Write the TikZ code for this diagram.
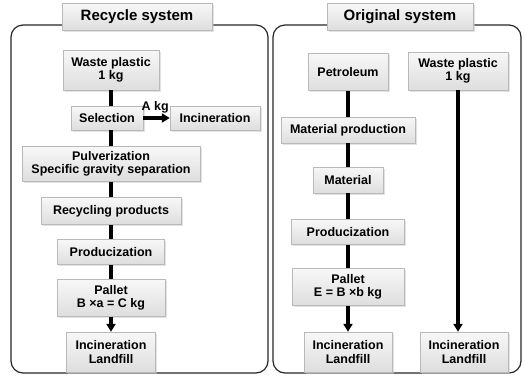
\documentclass[tikz,border=0pt]{standalone}
\usepackage{fontspec}
\setmainfont{Liberation Sans}
\usepackage{xcolor}
\usepackage{tikz}
\usetikzlibrary{arrows.meta,shadows}

\begin{document}
\begin{tikzpicture}[
  x=1pt, y=-1pt,
  font=\fontsize{12.5}{13.5}\selectfont\bfseries,
  >={Triangle[length=8pt, width=9pt]},
  box/.style={draw=gray!55, top color=gray!6, bottom color=gray!26,
              align=center, inner sep=0pt, minimum height=25pt,
              drop shadow={shadow xshift=1.5pt, shadow yshift=-1.5pt, fill=gray!45}},
  ttl/.style={box, font=\fontsize{15}{16}\selectfont\bfseries,
              minimum height=27pt},
  frame/.style={draw=black!85, line width=1.2pt, rounded corners=12pt},
  link/.style={line width=3.4pt, draw=black},
  flow/.style={link, ->},
  lbl/.style={inner sep=1pt}
]
\useasboundingbox (0,0) rectangle (525,376);

% frames
\draw[frame] (11,25) rectangle (268,373);
\draw[frame] (273,25) rectangle (521,373);
\node[ttl, minimum width=150pt] (t1) at (137,17) {Recycle system};
\node[ttl, minimum width=146pt] (t2) at (400,17) {Original system};

% recycle system
\node[box, minimum width=96pt, minimum height=40pt] (w1) at (111,70) {Waste plastic\\1 kg};
\node[box, minimum width=72pt, minimum height=24pt] (sel) at (107,118) {Selection};
\node[box, minimum width=90pt, minimum height=24pt] (inc0) at (215,118) {Incineration};
\node[box, minimum width=178pt, minimum height=35pt] (pul) at (111,164) {Pulverization\\Specific gravity separation};
\node[box, minimum width=140pt, minimum height=27pt] (rec) at (111,211) {Recycling products};
\node[box, minimum width=107pt] (prd1) at (111,252) {Producization};
\node[box, minimum width=108pt, minimum height=37pt] (pal1) at (111,298) {Pallet\\B ×a = C kg};
\node[box, minimum width=89pt, minimum height=40pt] (inc1) at (111,352) {Incineration\\Landfill};

\draw[link] (w1.south) -- (w1.south |- sel.north);
\draw[link] (sel.south -| w1.south) -- (pul.north);
\draw[flow] (sel.east) -- (inc0.west)
  node[lbl, pos=0.45, above=2pt] {A kg};
\draw[link] (pul.south) -- (rec.north);
\draw[link] (rec.south) -- (prd1.north);
\draw[link] (prd1.south) -- (pal1.north);
\draw[flow] (pal1.south) -- (inc1.north);

% original system
\node[box, minimum width=80pt, minimum height=37pt] (pet) at (348,72) {Petroleum};
\node[box, minimum width=100pt, minimum height=38pt] (w2) at (458,71) {Waste plastic\\1 kg};
\node[box, minimum width=134pt, minimum height=26pt] (matp) at (348,130) {Material production};
\node[box, minimum width=70pt, minimum height=26pt] (mat) at (348,180) {Material};
\node[box, minimum width=113pt] (prd2) at (348,232) {Producization};
\node[box, minimum width=112pt, minimum height=37pt] (pal2) at (348,287) {Pallet\\E = B ×b kg};
\node[box, minimum width=88pt, minimum height=40pt] (inc2) at (348,352) {Incineration\\Landfill};
\node[box, minimum width=88pt, minimum height=40pt] (inc3) at (464,352) {Incineration\\Landfill};

\draw[link] (pet.south) -- (matp.north);
\draw[link] (matp.south) -- (mat.north);
\draw[link] (mat.south) -- (prd2.north);
\draw[link] (prd2.south) -- (pal2.north);
\draw[flow] (pal2.south) -- (inc2.north);
\draw[flow] (w2.south) -- (w2.south |- inc3.north);
\end{tikzpicture}
\end{document}
